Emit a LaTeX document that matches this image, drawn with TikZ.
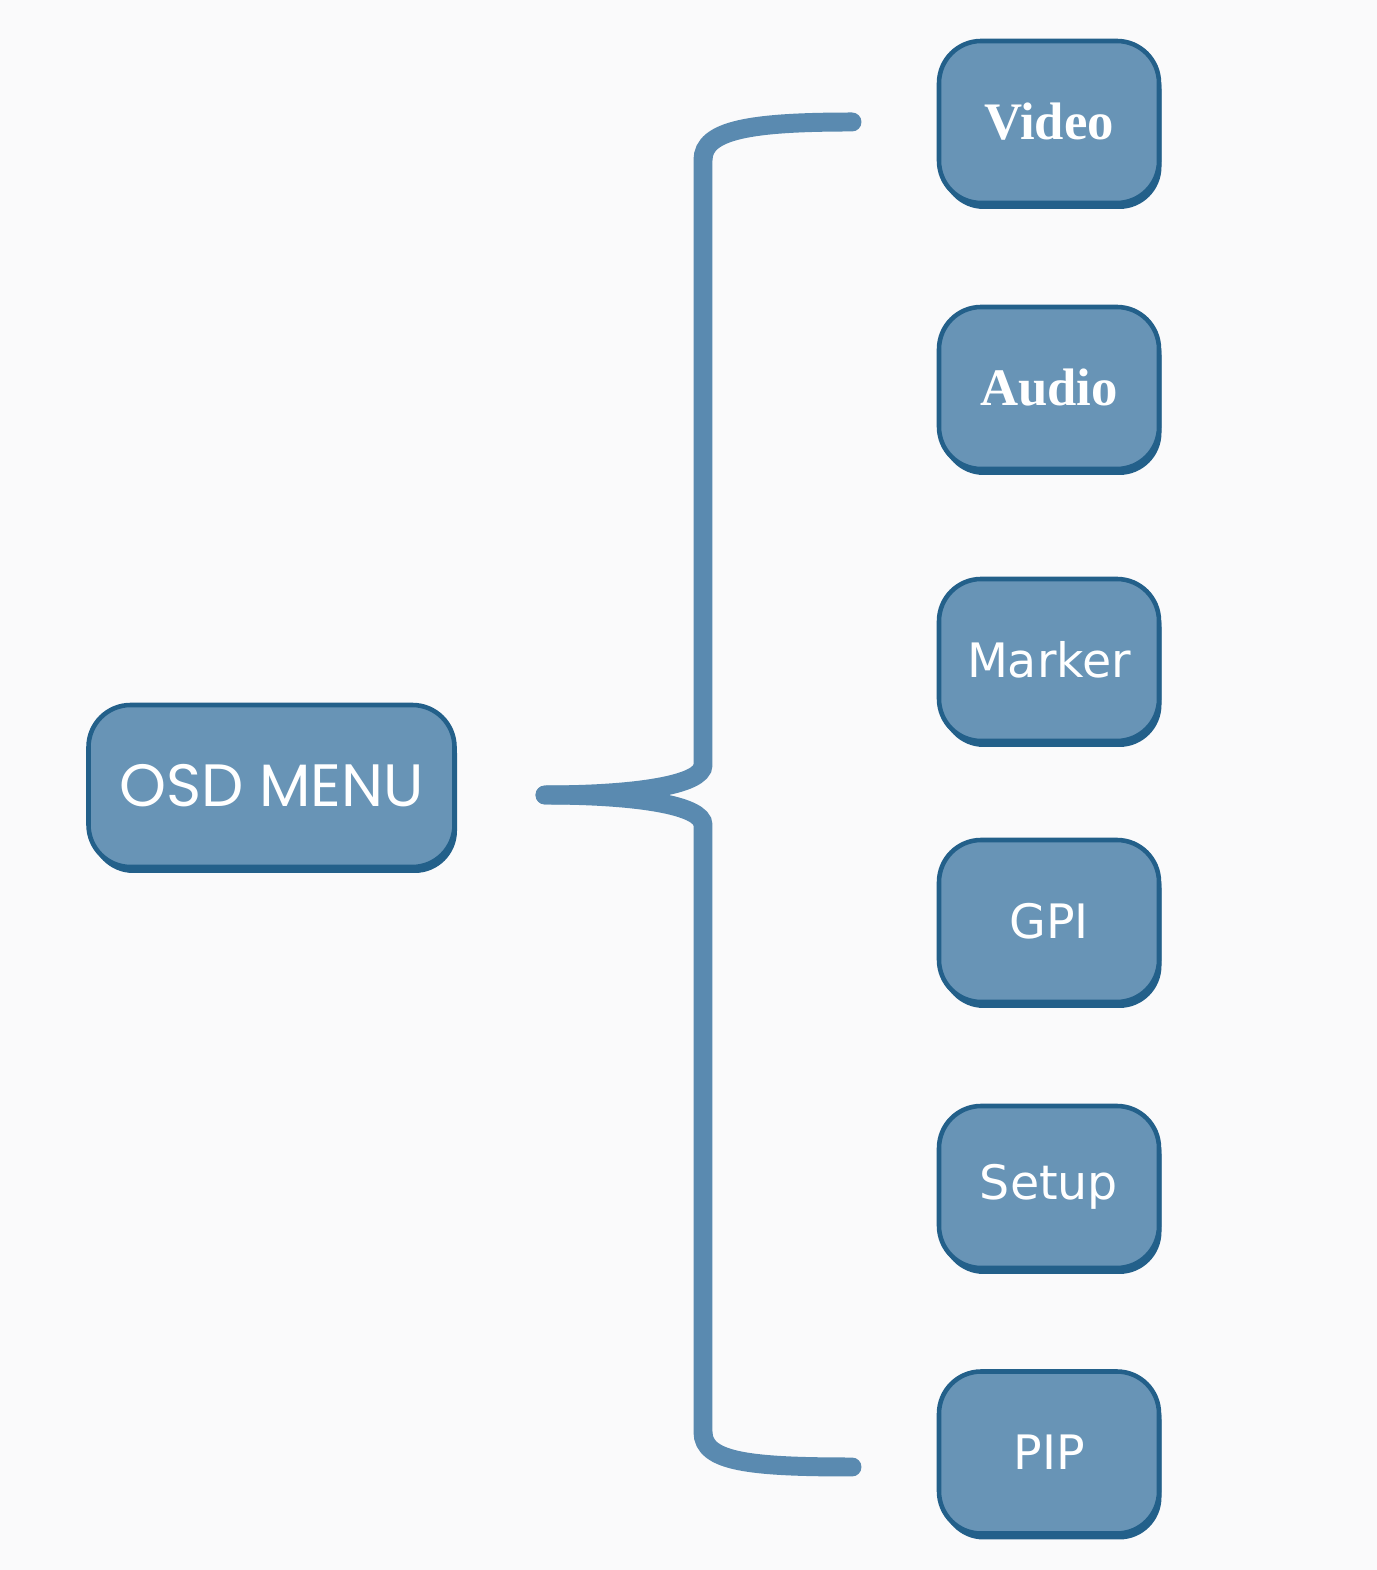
\documentclass[tikz,border=0pt]{standalone}
\usepackage{xcolor}
\usepackage{fontspec}
\usepackage{tikz}
\usetikzlibrary{shadows}
\setmainfont{DejaVu Sans}
\newfontfamily\capfont{Liberation Serif}
\newfontfamily\roundfont{Poppins}
\definecolor{pagebg}{HTML}{FAFAFB}
\definecolor{boxfill}{HTML}{6894B6}
\definecolor{boxedge}{HTML}{23608A}
\definecolor{bracecol}{HTML}{5A8AB0}
\tikzset{
  menubox/.style={draw=boxedge, line width=1.3pt, fill=boxfill, rounded corners=12pt,
    minimum width=2.2cm, minimum height=1.62cm, inner sep=0pt, text=white,
    drop shadow={shadow xshift=0.25mm, shadow yshift=-0.6mm, fill=boxedge, opacity=1}},
  brace/.style={draw=bracecol, line width=5.4pt, line cap=round}
}
\begin{document}
\begin{tikzpicture}
  \fill[pagebg] (0,0) rectangle (13.77,15.70);
  \useasboundingbox (0,0) rectangle (13.77,15.70);
                \node[menubox, minimum width=3.66cm, font=\roundfont\fontsize{17}{20}\selectfont] (osd) at (2.715,7.84) {OSD MENU};
                \node[menubox, font=\capfont\bfseries\fontsize{15}{18}\selectfont] (video) at (10.49,14.48) {Video};
                \node[menubox, font=\capfont\bfseries\fontsize{15}{18}\selectfont] (audio) at (10.49,11.82) {Audio};
                \node[menubox, font=\fontsize{13.5}{16}\selectfont] (marker) at (10.49,9.10) {Marker};
                \node[menubox, font=\fontsize{13.5}{16}\selectfont] (gpi) at (10.49,6.49) {GPI};
                \node[menubox, font=\fontsize{13.5}{16}\selectfont] (setup) at (10.49,3.83) {Setup};
                \node[menubox, font=\fontsize{13.5}{16}\selectfont] (pip) at (10.49,1.175) {PIP};
                \coordinate (fork) at (5.45,7.75);
                \coordinate (top) at (8.52,14.48);
                \coordinate (bot) at (8.52,1.03);
                \draw[brace] (fork) .. controls (6.35,7.75) and (7.03,7.85) .. (7.03,8.05)
                  -- (7.03,14.1) .. controls (7.03,14.4) and (7.5,14.48) .. (top);
                \draw[brace] (fork) .. controls (6.35,7.75) and (7.03,7.65) .. (7.03,7.45)
                  -- (7.03,1.38) .. controls (7.03,1.08) and (7.5,1.03) .. (bot);
            \end{tikzpicture}
\end{document}
